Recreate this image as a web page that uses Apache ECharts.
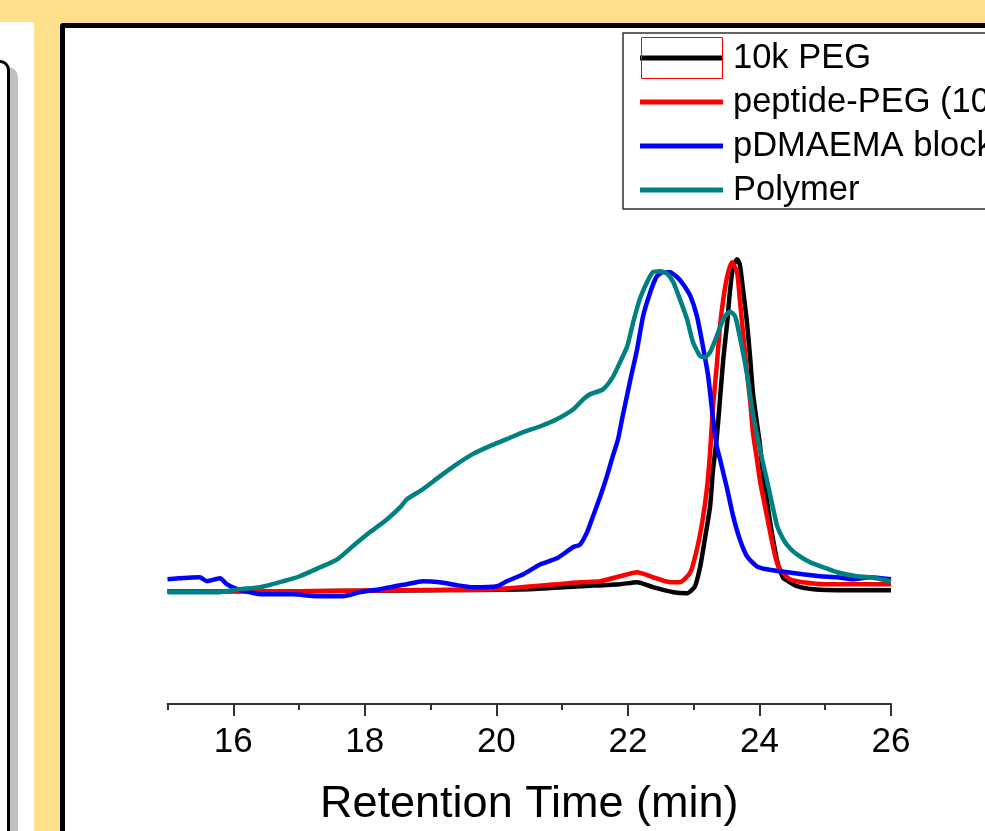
<!DOCTYPE html>
<html>
<head>
<meta charset="utf-8">
<script src="https://cdn.jsdelivr.net/npm/echarts@6/dist/echarts.min.js"></script>
<style>
	html, body { margin: 0; padding: 0; width: 985px; height: 831px; overflow: hidden; background: #FFE08B; }
	#leftPanel { position: absolute; left: 0; top: 22px; width: 34px; height: 820px; background: #fff; overflow: hidden; }
	#leftShadow { position: absolute; left: -20px; top: 45px; width: 38px; height: 800px; background: #c0c0c0; border-top-right-radius: 10px; }
	#leftBox { position: absolute; left: -20px; top: 38px; width: 24px; height: 800px; background: #fff; border: 3px solid #000; border-top-right-radius: 10px; }
	#mainPanel { position: absolute; left: 60px; top: 23px; width: 940px; height: 830px; background: #fff; border: 5px solid #000; border-radius: 3px; }
	#chartContent { position: absolute; left: 0; top: 0; width: 985px; height: 831px; }
</style>
</head>
<body>
<div id="leftPanel"><div id="leftShadow"></div><div id="leftBox"></div></div>
<div id="mainPanel"></div>
<div id="chartContent"></div>
<script>
// x ticks (min)
var majorTicks = [16, 18, 20, 22, 24, 26];
var minorTicks = [15, 17, 19, 21, 23, 25];

var legendData = ['10k PEG', 'peptide-PEG (10k)', 'pDMAEMA block', 'Polymer'];
var colors = ['#000000', '#FF0000', '#0000FF', '#008080'];

// 10k PEG
var pegTime = [15.0, 17.0, 19.0, 20.5, 21.3, 21.88, 22.14, 22.38, 22.69, 22.9, 23.02, 23.1, 23.17, 23.25, 23.29, 23.35, 23.4, 23.45, 23.51, 23.55, 23.6, 23.66, 23.7, 23.75, 23.81, 23.86, 23.9, 23.96, 24.01, 24.05, 24.11, 24.16, 24.27, 24.36, 24.42, 24.57, 24.82, 25.3, 26.0];
var pegSignal = [0, 0, 0.3, 0.6, 1.5, 2.1, 2.7, 1.2, -0.3, -0.6, 1.5, 7.5, 15.7, 25.6, 35.8, 46, 57.8, 69.9, 81.0, 90.1, 97.9, 100, 98.5, 91.0, 81.0, 69.9, 59.9, 50.9, 43.7, 35.8, 28, 21, 9, 4, 3.2, 1.5, 0.6, 0.3, 0.3];

// peptide-PEG
var ppTime = [15.0, 17.0, 18.5, 20.0, 21.27, 21.58, 21.88, 22.14, 22.38, 22.64, 22.79, 22.95, 23.05, 23.13, 23.2, 23.25, 23.29, 23.35, 23.4, 23.45, 23.51, 23.58, 23.66, 23.7, 23.75, 23.81, 23.86, 23.9, 23.96, 24.01, 24.11, 24.16, 24.24, 24.31, 24.46, 24.66, 25.0, 26.0];
var ppSignal = [0, 0, 0.3, 0.6, 2.7, 3.0, 4.5, 5.7, 4.2, 2.7, 2.7, 5.7, 12.7, 20.8, 30.7, 42, 54.8, 67.8, 79.8, 88.0, 94.9, 99.1, 96.1, 88.0, 78.0, 66, 57, 48, 40, 33, 23, 18, 10.5, 6.6, 3.6, 2.7, 2.1, 2.1];

// pDMAEMA block
var pdTime = [15.0, 15.49, 15.6, 15.8, 15.9, 16.06, 16.25, 16.41, 16.91, 17.27, 17.67, 17.93, 18.23, 18.54, 18.64, 18.88, 19.14, 19.4, 19.64, 20.01, 20.16, 20.41, 20.67, 20.92, 21.17, 21.27, 21.38, 21.47, 21.58, 21.68, 21.77, 21.85, 21.92, 22.03, 22.14, 22.23, 22.34, 22.44, 22.53, 22.64, 22.75, 22.84, 22.95, 23.05, 23.14, 23.22, 23.29, 23.35, 23.4, 23.51, 23.6, 23.7, 23.81, 23.96, 24.11, 24.31, 24.66, 24.92, 25.18, 25.42, 25.68, 26.0];
var pdSignal = [3.6, 4.2, 3.0, 3.9, 2.1, 0.6, -0.3, -0.9, -0.9, -1.5, -1.5, -0.3, 0.6, 1.8, 2.1, 3.0, 2.7, 1.8, 1.2, 1.5, 3.0, 5.1, 8.1, 9.9, 13.3, 14, 17.8, 22.6, 28.6, 34.6, 40.7, 45.8, 52.7, 63.0, 72.9, 82.8, 90.1, 94.9, 96.1, 96.1, 94.6, 92.5, 88.9, 82.8, 73.8, 64.8, 52.7, 43.7, 39.8, 30.7, 22.6, 15.7, 10.5, 7.5, 6.6, 6.0, 5.1, 4.5, 4.2, 3.6, 4.2, 3.6];

// Polymer
var polyTime = [15.0, 15.75, 16.1, 16.41, 16.76, 17.01, 17.32, 17.58, 17.82, 18.08, 18.34, 18.54, 18.64, 18.88, 19.14, 19.4, 19.64, 19.9, 20.16, 20.41, 20.67, 20.92, 21.17, 21.32, 21.42, 21.62, 21.77, 21.88, 21.99, 22.08, 22.18, 22.29, 22.38, 22.49, 22.59, 22.69, 22.79, 22.9, 22.99, 23.1, 23.17, 23.25, 23.35, 23.45, 23.55, 23.63, 23.7, 23.81, 23.9, 24.01, 24.11, 24.2, 24.27, 24.36, 24.46, 24.57, 24.77, 24.97, 25.18, 25.48, 25.68, 26.0];
var polySignal = [-0.3, -0.3, 0.6, 1.2, 3.0, 4.5, 7.2, 9.6, 13.6, 17.8, 21.7, 25.3, 27.7, 30.7, 34.6, 38.3, 41.3, 43.7, 45.8, 47.9, 49.7, 51.8, 54.8, 57.8, 59.3, 60.8, 64.5, 69.0, 73.8, 81.0, 88.0, 93.1, 96.1, 96.4, 95.8, 93.1, 88.0, 81.9, 75.0, 70.8, 70.5, 72.0, 76.8, 81.9, 84.3, 82.8, 76.8, 65.5, 53.5, 42.5, 33.7, 25.6, 19.6, 15.7, 13, 11.1, 8.7, 7.2, 5.7, 4.5, 4.2, 3.0];

function pairs(t, v) {
	var out = [];
	for (var i = 0; i < t.length; i++) {
		out.push([t[i], v[i]]);
	}
	return out;
}

function makeLine(i, t, v) {
	return {
		name: legendData[i],
		type: 'line',
		xAxisIndex: 0,
		showSymbol: false,
		smooth: 0.2,
		animation: false,
		itemStyle: { color: colors[i] },
		lineStyle: { color: colors[i], width: 4.5 },
		data: pairs(t, v)
	};
}

var font = '"Liberation Sans", Arial, sans-serif';
var myChart = echarts.init(document.getElementById('chartContent'), null, { renderer: 'canvas' });
var option = {
	backgroundColor: 'transparent',
	animation: false,
	grid: { left: 167.5, right: 94, top: 27, bottom: 127, containLabel: false, outerBoundsMode: 'none' },
	legend: {
		orient: 'vertical',
		left: 623,
		top: 33,
		data: legendData,
		icon: 'rect',
		itemWidth: 83,
		itemHeight: 5,
		itemGap: 8,
		padding: [7, 320, 1, 17],
		backgroundColor: '#fff',
		borderColor: '#333',
		borderWidth: 1.5,
		borderRadius: 0,
		selectedMode: false,
		textStyle: { fontFamily: font, fontSize: 34.5, lineHeight: 36, color: '#000', padding: [0, 0, 0, 5] }
	},
	graphic: [{
		type: 'rect',
		z: 100,
		shape: { x: 641.5, y: 37.5, width: 81, height: 41 },
		style: { fill: 'none', stroke: '#FF0000', lineWidth: 1 }
	}],
	xAxis: [{
		type: 'value',
		min: 15,
		max: 26,
		position: 'bottom',
		name: 'Retention Time (min)',
		nameLocation: 'middle',
		nameGap: 78,
		nameTextStyle: { fontFamily: font, fontSize: 45, color: '#000' },
		splitLine: { show: false },
		axisLine: { onZero: false, lineStyle: { color: '#333', width: 2 } },
		axisTick: { show: true, customValues: majorTicks, length: 12, lineStyle: { color: '#333', width: 2 } },
		axisLabel: { customValues: majorTicks, margin: 21, fontFamily: font, fontSize: 35, color: '#000' }
	}, {
		type: 'value',
		min: 15,
		max: 26,
		position: 'bottom',
		gridIndex: 0,
		splitLine: { show: false },
		axisLine: { show: false, onZero: false },
		axisTick: { show: true, customValues: minorTicks, length: 6, lineStyle: { color: '#333', width: 2 } },
		axisLabel: { show: false }
	}],
	yAxis: [{
		type: 'value',
		min: -34,
		max: 170,
		show: false,
		splitLine: { show: false }
	}],
	series: [
		makeLine(0, pegTime, pegSignal),
		makeLine(1, ppTime, ppSignal),
		makeLine(2, pdTime, pdSignal),
		makeLine(3, polyTime, polySignal)
	]
};
myChart.setOption(option);
</script>
</body>
</html>
